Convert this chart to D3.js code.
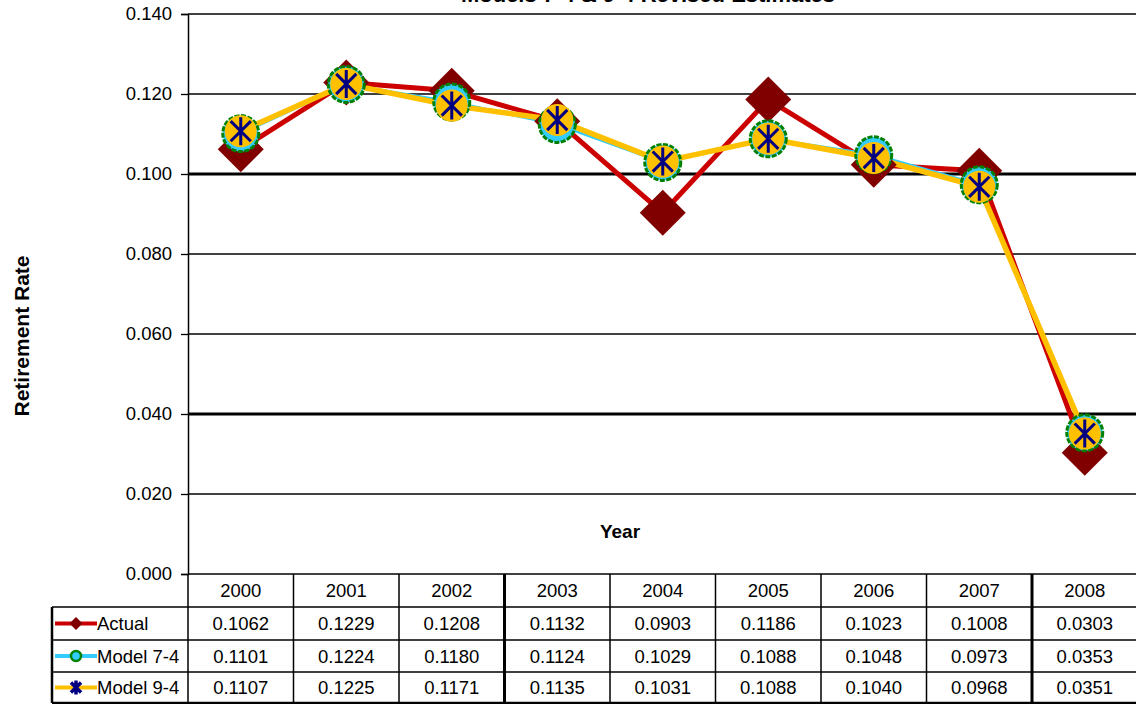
<!DOCTYPE html>
<html>
<head>
<meta charset="utf-8">
<script src="https://cdn.jsdelivr.net/npm/d3@7"></script>
<style>
  body { margin: 0; background: #fff; }
  text { font-family: "Liberation Sans", Arial, sans-serif; fill: #000; }
</style>
</head>
<body>
<div id="chart"></div>
<script>
const WIDTH = 1136;
const HEIGHT = 704;

var years = ["2000", "2001", "2002", "2003", "2004", "2005", "2006", "2007", "2008"];
var actual = [0.1062, 0.1229, 0.1208, 0.1132, 0.0903, 0.1186, 0.1023, 0.1008, 0.0303];
var model74 = [0.1101, 0.1224, 0.1180, 0.1124, 0.1029, 0.1088, 0.1048, 0.0973, 0.0353];
var model94 = [0.1107, 0.1225, 0.1171, 0.1135, 0.1031, 0.1088, 0.1040, 0.0968, 0.0351];
var seriesNames = ["Actual", "Model 7-4", "Model 9-4"];
var yTicks = [0, 0.02, 0.04, 0.06, 0.08, 0.10, 0.12, 0.14];
var boldTicks = [0.04, 0.10];

var series = [
  { name: seriesNames[0], values: actual, line: "#cc0000", lw: 5 },
  { name: seriesNames[1], values: model74, line: "#33ccff", lw: 3 },
  { name: seriesNames[2], values: model94, line: "#ffc000", lw: 5.5 }
];

var svg = d3.select("div#chart").append("svg")
    .attr("width", WIDTH)
    .attr("height", HEIGHT);

// plot area: left edge 188, bands 105.5 wide, runs past the right edge
var x = d3.scaleBand(years, [188, 188 + 105.5 * 9]).padding(0);
var y = d3.scaleLinear([0, 0.14], [574, 14]);
var cx = d => x(d) + x.bandwidth() / 2;

// title (cut off at top, like the source)
svg.append("text")
    .attr("x", 648).attr("y", 2)
    .attr("text-anchor", "middle")
    .style("font-size", "22px").style("font-weight", "bold")
    .text("Models 7-4 & 9-4 Revised Estimates");

// gridlines
svg.append("g").selectAll("line").data(yTicks.filter(d => d > 0))
  .join("line")
    .attr("x1", 188).attr("x2", WIDTH)
    .attr("y1", d => y(d)).attr("y2", d => y(d))
    .attr("stroke", "#000")
    .attr("stroke-width", d => boldTicks.some(b => Math.abs(b - d) < 1e-9) ? 3 : 1.3);

// y axis
var yAxis = svg.append("g")
    .attr("transform", "translate(188,0)")
    .call(d3.axisLeft(y).tickValues(yTicks).tickFormat(d3.format(".3f")).tickSize(7).tickPadding(9));
yAxis.select(".domain").attr("stroke", "#000").attr("stroke-width", 1.5);
yAxis.selectAll(".tick line").attr("stroke", "#000").attr("stroke-width", 1.3);
yAxis.selectAll(".tick text")
    .style("font-size", "18.5px")
    .style("font-family", "'Liberation Sans', Arial, sans-serif");

svg.append("text")
    .attr("transform", "translate(29,336) rotate(-90)")
    .attr("text-anchor", "middle")
    .style("font-size", "21px").style("font-weight", "bold")
    .text("Retirement Rate");

svg.append("text")
    .attr("x", 620).attr("y", 538)
    .attr("text-anchor", "middle")
    .style("font-size", "19px").style("font-weight", "bold")
    .text("Year");

// lines
const lineFunc = d3.line()
    .x((d, i) => cx(years[i]))
    .y(d => y(d));

svg.append("g").selectAll("path").data(series)
  .join("path")
    .attr("d", d => lineFunc(d.values))
    .attr("fill", "none")
    .attr("stroke", d => d.line)
    .attr("stroke-width", d => d.lw)
    .attr("stroke-linejoin", "round");

// markers
function diamond(g, s) {
  g.append("path")
    .attr("d", `M0,${-s}L${s},0L0,${s}L${-s},0Z`)
    .attr("fill", "#800000");
}
function ring(g, r, sw) {
  g.append("circle").attr("r", r)
    .attr("fill", "#33ccff").attr("stroke", "#008000")
    .attr("stroke-width", sw).attr("stroke-dasharray", sw > 2.5 ? "5 1.5" : null);
}
function star(g, r, fill, sw) {
  if (fill) g.append("circle").attr("r", r + 2).attr("fill", "#ffc000");
  var a = r * 0.72;
  g.append("path")
    .attr("d", `M${-a},${-a}L${a},${a}M${-a},${a}L${a},${-a}M0,${-r}L0,${r}`)
    .attr("stroke", "#000080").attr("stroke-width", sw).attr("fill", "none");
}

svg.append("g").selectAll("g").data(actual)
  .join("g")
    .attr("transform", (d, i) => `translate(${cx(years[i])},${y(d)})`)
    .each(function() { diamond(d3.select(this), 23); });

svg.append("g").selectAll("g").data(model74)
  .join("g")
    .attr("transform", (d, i) => `translate(${cx(years[i])},${y(d)})`)
    .each(function() { ring(d3.select(this), 18, 3); });

svg.append("g").selectAll("g").data(model94)
  .join("g")
    .attr("transform", (d, i) => `translate(${cx(years[i])},${y(d)})`)
    .each(function() { star(d3.select(this), 14, true, 3); });

// data table
var rowY = [574, 607, 640, 672, 703];
var table = svg.append("g");

table.selectAll("text.year").data(years)
  .join("text")
    .attr("class", "year")
    .attr("x", d => cx(d)).attr("y", (rowY[0] + rowY[1]) / 2 + 6.5)
    .attr("text-anchor", "middle")
    .style("font-size", "18.5px")
    .text(d => d);

series.forEach((s, r) => {
  table.selectAll("text.v" + r).data(s.values)
    .join("text")
      .attr("class", "v" + r)
      .attr("x", (d, i) => cx(years[i]))
      .attr("y", (rowY[r + 1] + rowY[r + 2]) / 2 + 6.5)
      .attr("text-anchor", "middle")
      .style("font-size", "18.5px")
      .text(d => d.toFixed(4));

  var ky = (rowY[r + 1] + rowY[r + 2]) / 2;
  var key = table.append("g");
  key.append("line")
    .attr("x1", 55).attr("x2", 97).attr("y1", ky).attr("y2", ky)
    .attr("stroke", s.line).attr("stroke-width", 4);
  var m = key.append("g").attr("transform", `translate(76,${ky})`);
  if (r === 0) diamond(m, 6.5);
  if (r === 1) ring(m, 5, 2.5);
  if (r === 2) star(m, 7, false, 3.5);
  key.append("text")
    .attr("x", 97).attr("y", ky + 6.5)
    .style("font-size", "18.5px")
    .text(s.name);
});

// table grid
var lines = table.append("g").attr("stroke", "#000");
lines.append("line").attr("x1", 188).attr("x2", WIDTH).attr("y1", rowY[0]).attr("y2", rowY[0]).attr("stroke-width", 1.5);
rowY.slice(1).forEach((ry, i) => {
  lines.append("line")
    .attr("x1", 52).attr("x2", WIDTH).attr("y1", ry).attr("y2", ry)
    .attr("stroke-width", i === 3 ? 2.5 : 1.5);
});
lines.append("line").attr("x1", 52).attr("x2", 52).attr("y1", rowY[1]).attr("y2", rowY[4]).attr("stroke-width", 2.5);
years.forEach((yr, i) => {
  lines.append("line")
    .attr("x1", x(yr)).attr("x2", x(yr)).attr("y1", rowY[0]).attr("y2", rowY[4])
    .attr("stroke-width", (i === 3 || i === 8) ? 3 : 1.5);
});
</script>
</body>
</html>
